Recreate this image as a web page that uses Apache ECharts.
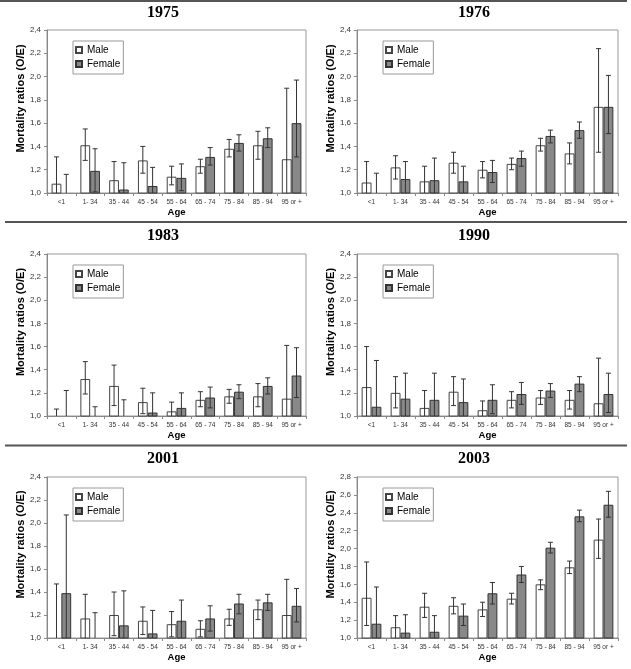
<!DOCTYPE html>
<html><head><meta charset="utf-8">
<script src="https://cdn.jsdelivr.net/npm/echarts@6/dist/echarts.min.js"></script>
<style>html,body{margin:0;padding:0;background:#fff}#c{width:631px;height:669px}</style>
</head><body><div id="c"></div>
<script>
// ---- data ----
const categories = ['<1', '1- 34', '35 - 44', '45 - 54', '55 - 64', '65 - 74', '75 - 84', '85 - 94', '95 or +'];
const seriesNames = ['Male', 'Female'];

const male1975     = [1.08, 1.41, 1.11, 1.28, 1.14, 1.23, 1.38, 1.41, 1.29];
const male1975Low  = [0.85, 1.28, 0.95, 1.17, 1.07, 1.17, 1.31, 1.29, 0.80];
const male1975High = [1.31, 1.55, 1.27, 1.40, 1.23, 1.29, 1.46, 1.53, 1.90];
const female1975     = [0.70, 1.19, 1.03, 1.06, 1.13, 1.31, 1.43, 1.47, 1.60];
const female1975Low  = [0.30, 1.01, 0.80, 0.90, 1.02, 1.24, 1.36, 1.39, 1.31];
const female1975High = [1.16, 1.38, 1.26, 1.22, 1.25, 1.39, 1.50, 1.56, 1.97];

const male1976     = [1.09, 1.22, 1.10, 1.26, 1.20, 1.25, 1.41, 1.34, 1.74];
const male1976Low  = [0.90, 1.12, 0.97, 1.17, 1.13, 1.20, 1.36, 1.25, 1.35];
const male1976High = [1.27, 1.32, 1.23, 1.35, 1.27, 1.30, 1.47, 1.43, 2.24];
const female1976     = [0.75, 1.12, 1.11, 1.10, 1.18, 1.30, 1.49, 1.54, 1.74];
const female1976Low  = [0.35, 0.97, 0.92, 0.97, 1.09, 1.23, 1.43, 1.47, 1.51];
const female1976High = [1.17, 1.27, 1.30, 1.23, 1.28, 1.36, 1.54, 1.61, 2.01];

const male1983     = [0.70, 1.32, 1.26, 1.12, 1.04, 1.14, 1.17, 1.17, 1.15];
const male1983Low  = [0.35, 1.19, 1.09, 1.02, 0.96, 1.08, 1.11, 1.08, 0.80];
const male1983High = [1.06, 1.47, 1.44, 1.24, 1.12, 1.21, 1.23, 1.28, 1.61];
const female1983     = [0.75, 0.85, 0.90, 1.03, 1.07, 1.16, 1.21, 1.26, 1.35];
const female1983Low  = [0.25, 0.60, 0.65, 0.87, 0.95, 1.07, 1.15, 1.19, 1.16];
const female1983High = [1.22, 1.08, 1.14, 1.20, 1.20, 1.25, 1.27, 1.33, 1.59];

const male1990     = [1.25, 1.20, 1.07, 1.21, 1.05, 1.14, 1.16, 1.14, 1.11];
const male1990Low  = [0.90, 1.07, 0.93, 1.09, 0.97, 1.07, 1.10, 1.06, 0.75];
const male1990High = [1.60, 1.34, 1.22, 1.34, 1.13, 1.21, 1.22, 1.22, 1.50];
const female1990     = [1.08, 1.15, 1.14, 1.12, 1.14, 1.19, 1.22, 1.28, 1.19];
const female1990Low  = [0.70, 0.95, 0.93, 0.93, 1.02, 1.10, 1.16, 1.21, 1.03];
const female1990High = [1.48, 1.37, 1.37, 1.32, 1.27, 1.29, 1.28, 1.34, 1.37];

const male2001     = [0.95, 1.17, 1.20, 1.15, 1.12, 1.08, 1.17, 1.25, 1.20];
const male2001Low  = [0.45, 0.96, 1.02, 1.03, 1.01, 1.01, 1.11, 1.16, 0.92];
const male2001High = [1.47, 1.38, 1.40, 1.27, 1.23, 1.15, 1.25, 1.33, 1.51];
const female2001     = [1.39, 0.85, 1.11, 1.04, 1.15, 1.17, 1.30, 1.31, 1.28];
const female2001Low  = [0.70, 0.50, 0.85, 0.85, 0.97, 1.06, 1.21, 1.24, 1.14];
const female2001High = [2.07, 1.22, 1.41, 1.24, 1.33, 1.28, 1.38, 1.38, 1.43];

const male2003     = [1.45, 1.12, 1.35, 1.36, 1.32, 1.44, 1.60, 1.79, 2.10];
const male2003Low  = [1.14, 0.98, 1.23, 1.27, 1.24, 1.38, 1.54, 1.72, 1.89];
const male2003High = [1.85, 1.25, 1.50, 1.45, 1.40, 1.50, 1.65, 1.86, 2.33];
const female2003     = [1.16, 1.06, 1.07, 1.25, 1.50, 1.71, 2.01, 2.36, 2.49];
const female2003Low  = [0.85, 0.88, 0.90, 1.14, 1.38, 1.62, 1.95, 2.30, 2.35];
const female2003High = [1.57, 1.26, 1.25, 1.38, 1.62, 1.80, 2.07, 2.43, 2.64];

const yMaxima = [2.4, 2.4, 2.4, 2.4, 2.4, 2.8];
const panelTitles = ['1975', '1976', '1983', '1990', '2001', '2003'];

// ---- assembly ----
const panels = [
  [male1975, male1975Low, male1975High, female1975, female1975Low, female1975High],
  [male1976, male1976Low, male1976High, female1976, female1976Low, female1976High],
  [male1983, male1983Low, male1983High, female1983, female1983Low, female1983High],
  [male1990, male1990Low, male1990High, female1990, female1990Low, female1990High],
  [male2001, male2001Low, male2001High, female2001, female2001Low, female2001High],
  [male2003, male2003Low, male2003High, female2003, female2003Low, female2003High]
];

// layout (positions only)
const grids = [
  {left: 47,  top: 30,  width: 259, height: 163},
  {left: 357, top: 30,  width: 261, height: 163},
  {left: 47,  top: 254, width: 259, height: 162},
  {left: 357, top: 254, width: 261, height: 162},
  {left: 47,  top: 477, width: 259, height: 161},
  {left: 357, top: 477, width: 261, height: 161}
];
const titlePos = [[163, 5], [474, 5], [163, 228], [474, 228], [163, 451], [474, 451]];

const BAR_FRAC = 0.34;
const FONT = 'Liberation Sans, Arial, sans-serif';
const fmt = v => v.toFixed(1).replace('.', ',');

function errRender(side) {
  return function (params, api) {
    const i = api.value(0);
    const cw = api.size([1, 0])[0];
    const bw = cw * BAR_FRAC;
    const x = api.coord([i, 1])[0] + side * bw / 2;
    const yl = api.coord([i, api.value(1)])[1];
    const yh = api.coord([i, api.value(2)])[1];
    const cap = 2.5;
    const st = {stroke: '#333', lineWidth: 1, fill: null};
    return {type: 'group', children: [
      {type: 'line', shape: {x1: x, y1: yl, x2: x, y2: yh}, style: st},
      {type: 'line', shape: {x1: x - cap, y1: yh, x2: x + cap, y2: yh}, style: st},
      {type: 'line', shape: {x1: x - cap, y1: yl, x2: x + cap, y2: yl}, style: st}
    ]};
  };
}

const option = {
  backgroundColor: '#fff',
  animation: false,
  title: [], grid: [], xAxis: [], yAxis: [], series: [], legend: [],
  graphic: [
    {type: 'line', shape: {x1: 0, y1: 1, x2: 627, y2: 1}, style: {stroke: '#555', lineWidth: 2}},
    {type: 'line', shape: {x1: 5, y1: 222, x2: 627, y2: 222}, style: {stroke: '#555', lineWidth: 2}},
    {type: 'line', shape: {x1: 5, y1: 445.5, x2: 627, y2: 445.5}, style: {stroke: '#555', lineWidth: 2}}
  ]
};

panels.forEach((p, k) => {
  const g = grids[k];
  option.title.push({
    text: panelTitles[k], left: titlePos[k][0], top: titlePos[k][1], textAlign: 'center', padding: 0,
    textStyle: {fontFamily: 'Liberation Serif, Times New Roman, serif', fontWeight: 'bold', fontSize: 16, color: '#000'}
  });
  option.grid.push(Object.assign({show: true, borderColor: '#999', borderWidth: 1, backgroundColor: 'transparent'}, g));
  option.xAxis.push({
    type: 'category', gridIndex: k, data: categories,
    name: 'Age', nameLocation: 'middle', nameGap: 12,
    nameTextStyle: {fontFamily: FONT, fontWeight: 'bold', fontSize: 9.5, color: '#000'},
    axisLine: {lineStyle: {color: '#888', width: 1}},
    axisTick: {show: true, length: 3, lineStyle: {color: '#888'}},
    axisLabel: {fontFamily: FONT, fontSize: 6.5, color: '#333', margin: 6, interval: 0}
  });
  option.yAxis.push({
    type: 'value', gridIndex: k, min: 1.0, max: yMaxima[k], interval: 0.2,
    name: 'Mortality ratios (O/E)', nameLocation: 'middle', nameGap: 20, nameRotate: 90,
    nameTextStyle: {fontFamily: FONT, fontWeight: 'bold', fontSize: 11, color: '#000', padding: [0, 0, 0, 26]},
    axisLine: {show: true, lineStyle: {color: '#888', width: 1}},
    axisTick: {show: true, length: 3, lineStyle: {color: '#888'}},
    splitLine: {show: false},
    axisLabel: {fontFamily: FONT, fontSize: 8, color: '#333', margin: 6, formatter: fmt}
  });
  const [mv, ml, mh, fv, fl, fh] = p;
  option.series.push({
    name: seriesNames[0], type: 'bar', xAxisIndex: k, yAxisIndex: k, data: mv,
    barWidth: (BAR_FRAC * 100) + '%', barGap: '0%', clip: true,
    itemStyle: {color: '#ffffff', borderColor: '#444', borderWidth: 1}
  });
  option.series.push({
    name: seriesNames[1], type: 'bar', xAxisIndex: k, yAxisIndex: k, data: fv,
    barWidth: (BAR_FRAC * 100) + '%', barGap: '0%', clip: true,
    itemStyle: {color: '#888888', borderColor: '#333', borderWidth: 1}
  });
  option.series.push({
    type: 'custom', xAxisIndex: k, yAxisIndex: k, clip: true, z: 5,
    renderItem: errRender(-1),
    encode: {x: 0, y: [1, 2]},
    data: categories.map((c, i) => [i, ml[i], mh[i]])
  });
  option.series.push({
    type: 'custom', xAxisIndex: k, yAxisIndex: k, clip: true, z: 5,
    renderItem: errRender(1),
    encode: {x: 0, y: [1, 2]},
    data: categories.map((c, i) => [i, fl[i], fh[i]])
  });
  option.legend.push({
    data: seriesNames, orient: 'vertical', left: g.left + 26, top: g.top + 11,
    borderColor: '#999', borderWidth: 1, padding: [4, 3, 5, 2], itemGap: 4,
    itemWidth: 6, itemHeight: 6, icon: 'rect', selectedMode: false,
    textStyle: {fontFamily: FONT, fontSize: 10, color: '#000'}
  });
});

const chart = echarts.init(document.getElementById('c'), null, {renderer: 'canvas'});
chart.setOption(option);
</script>
</body></html>
